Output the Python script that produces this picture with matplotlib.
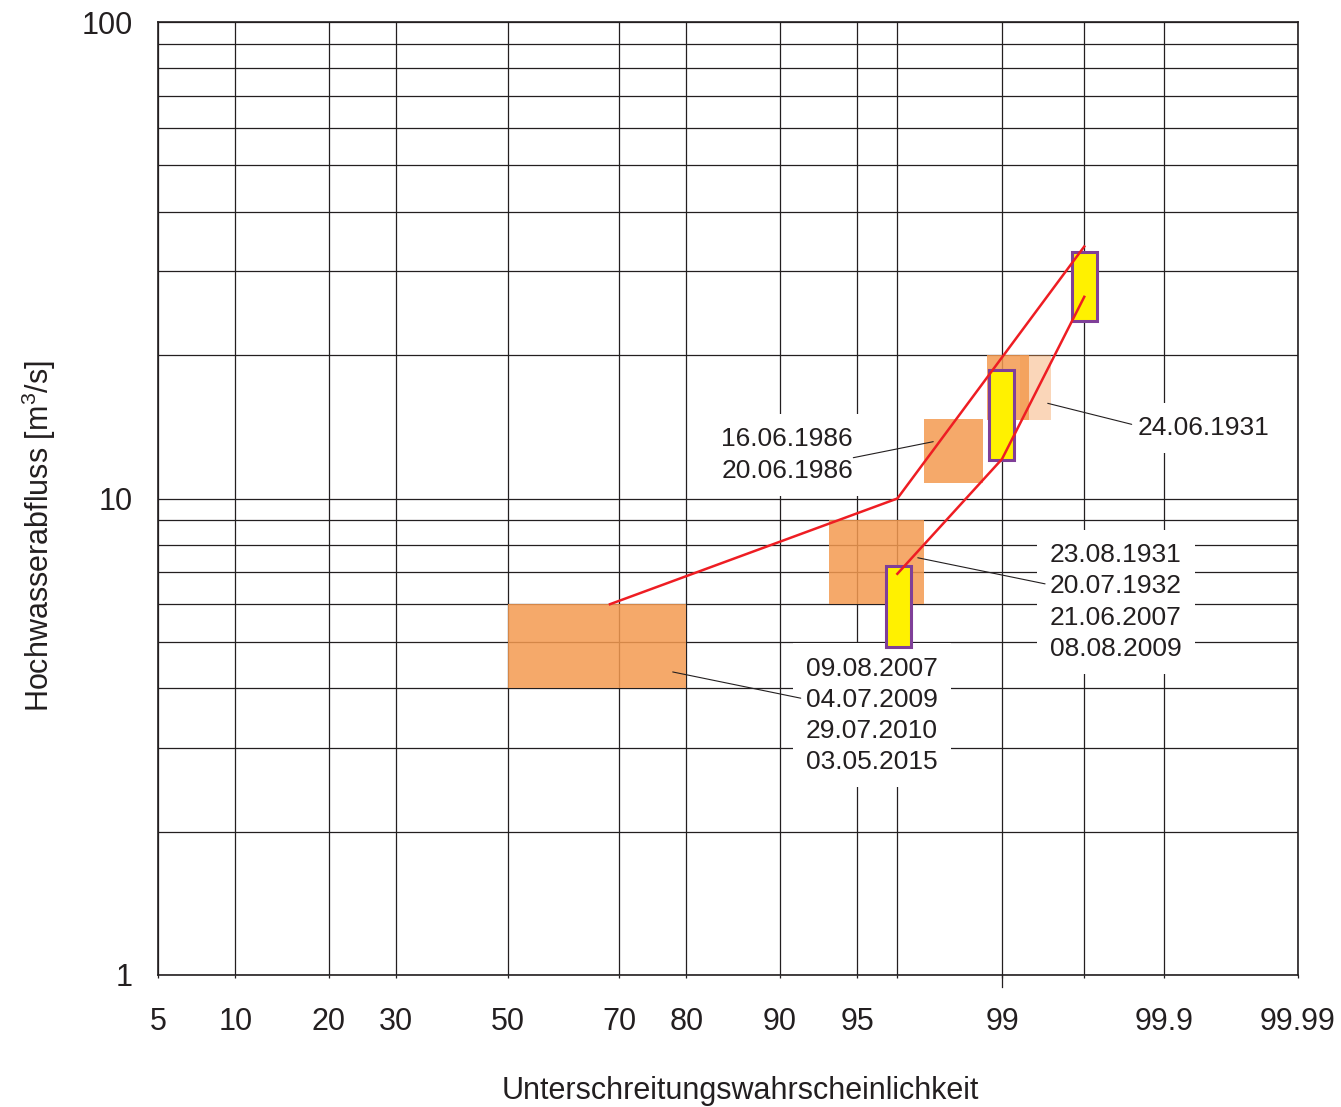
import numpy as np
import matplotlib
matplotlib.use("Agg")
import matplotlib.pyplot as plt
from matplotlib.ticker import FixedLocator, NullFormatter, LogLocator
from statistics import NormalDist

plt.rcParams['font.family'] = ['Liberation Sans', 'DejaVu Sans']
plt.rcParams['mathtext.fontset'] = 'custom'
plt.rcParams['mathtext.rm'] = 'Liberation Sans'
plt.rcParams['mathtext.it'] = 'Liberation Sans:italic'

# probability axis (normal distribution), values in percent
x_ticks = [5, 10, 20, 30, 50, 70, 80, 90, 95, 99, 99.9, 99.99]
x_tick_labels = ['5', '10', '20', '30', '50', '70', '80', '90', '95', '99', '99.9', '99.99']
x_extra_grid = [96.667, 99.667]          # T = 30 a, T = 300 a
y_ticks = [1, 10, 100]
y_tick_labels = ['1', '10', '100']

# discharge ranges of historical floods
range_p_lo = [50.0, 93.5, 97.5, 98.8]
range_p_hi = [80.0, 97.5, 98.73, 99.29]
range_q_lo = [4.0, 6.0, 10.8, 14.6]
range_q_hi = [6.0, 9.0, 14.7, 20.0]

# flood of 24.06.1931 (uncertain)
range1931_p = [99.2, 99.47]
range1931_q = [14.6, 20.0]

# HQ30, HQ100, HQ300 bands
hq_p_lo = [96.24, 98.82, 99.606]
hq_p_hi = [97.11, 99.14, 99.724]
hq_q_lo = [4.88, 12.04, 23.6]
hq_q_hi = [7.23, 18.6, 32.9]

# envelope curves
upper_p = [68.5, 96.667, 99.667]
upper_q = [6.0, 10.0, 33.8]
lower_p = [96.667, 99.0, 99.667]
lower_q = [6.95, 12.1, 26.5]

label_texts = ["16.06.1986\n20.06.1986",
               "24.06.1931",
               "23.08.1931\n20.07.1932\n21.06.2007\n08.08.2009",
               "09.08.2007\n04.07.2009\n29.07.2010\n03.05.2015"]
label_pos = [(94.79, 12.34), (99.849, 14.06), (99.465, 6.065), (91.99, 3.506)]
label_ha = ['right', 'left', 'left', 'left']
leader_from = [(97.74, 13.16), (99.448, 15.84), (97.32, 7.51), (78.14, 4.325)]
leader_to = [(94.81, 12.18), (99.834, 14.31), (99.428, 6.62), (91.61, 3.81)]

_nd = NormalDist()
_ppf = np.vectorize(_nd.inv_cdf, otypes=[float])
_cdf = np.vectorize(_nd.cdf, otypes=[float])


def prob_fwd(p):
    p = np.clip(np.asarray(p, dtype=float) / 100.0, 1e-9, 1 - 1e-9)
    return _ppf(p)


def prob_inv(z):
    return _cdf(np.asarray(z, dtype=float)) * 100.0


ink = '#231F20'
orange = '#F49A50'

fig = plt.figure(figsize=(13.41, 11.07), dpi=100)
ax = fig.add_axes([158 / 1341, 1 - 975 / 1107, 1140 / 1341, 953 / 1107])
ax.set_xscale('function', functions=(prob_fwd, prob_inv))
ax.set_yscale('log')
ax.set_xlim(5, 99.99)
ax.set_ylim(1, 100)

ax.xaxis.set_major_locator(FixedLocator(x_ticks))
ax.set_xticklabels(x_tick_labels)
ax.xaxis.set_minor_locator(FixedLocator(x_extra_grid))
ax.xaxis.set_minor_formatter(NullFormatter())
ax.yaxis.set_major_locator(FixedLocator(y_ticks))
ax.set_yticklabels(y_tick_labels)
ax.yaxis.set_minor_locator(LogLocator(base=10, subs=np.arange(2, 10)))
ax.yaxis.set_minor_formatter(NullFormatter())

ax.grid(True, which='both', color=ink, lw=0.9)
ax.set_axisbelow(True)
ax.tick_params(axis='x', which='both', direction='out', length=2.2, width=0.9,
               color=ink, labelsize=22, labelcolor=ink, pad=21)
ax.tick_params(axis='y', which='both', length=0, labelsize=22,
               labelcolor=ink, pad=18)
for s in ax.spines.values():
    s.set_color(ink)
    s.set_linewidth(1.2)
# longer tick at 99 %
ax.axvline(99, ymin=-0.0126, ymax=0, color=ink, lw=0.9, clip_on=False)

# peach box behind
ax.fill([range1931_p[0], range1931_p[1], range1931_p[1], range1931_p[0]],
        [range1931_q[0], range1931_q[0], range1931_q[1], range1931_q[1]],
        color=orange, alpha=0.4, lw=0, zorder=2)

for p0, p1, q0, q1 in zip(range_p_lo, range_p_hi, range_q_lo, range_q_hi):
    ax.fill([p0, p1, p1, p0], [q0, q0, q1, q1], color=orange, alpha=0.85,
            lw=0, zorder=2.1)

for p0, p1, q0, q1 in zip(hq_p_lo, hq_p_hi, hq_q_lo, hq_q_hi):
    ax.fill([p0, p1, p1, p0], [q0, q0, q1, q1], facecolor='#FFF100',
            edgecolor='#7F3F98', lw=2.2, zorder=3)

ax.plot(upper_p, upper_q, color='#EE1D23', lw=1.8, zorder=4)
ax.plot(lower_p, lower_q, color='#EE1D23', lw=1.8, zorder=4)

for txt, pos, ha in zip(label_texts, label_pos, label_ha):
    ax.text(pos[0], pos[1], txt, ha=ha, va='center', fontsize=19,
            color=ink, linespacing=1.38, zorder=1.8,
            bbox=dict(boxstyle='square,pad=0.5', fc='white', ec='none'))

for a, b in zip(leader_from, leader_to):
    ax.annotate('', xy=a, xytext=b, zorder=6,
                arrowprops=dict(arrowstyle='-', color=ink, lw=0.8,
                                shrinkA=0, shrinkB=0))

ax.set_xlabel('Unterschreitungswahrscheinlichkeit', fontsize=22, color=ink)
ax.xaxis.set_label_coords(0.5105, -0.106)
ax.set_ylabel('Hochwasserabfluss [m$^3$/s]', fontsize=22, color=ink)
ax.yaxis.set_label_coords(-0.088, 0.4607)

fig.savefig('out.png', dpi=100)
